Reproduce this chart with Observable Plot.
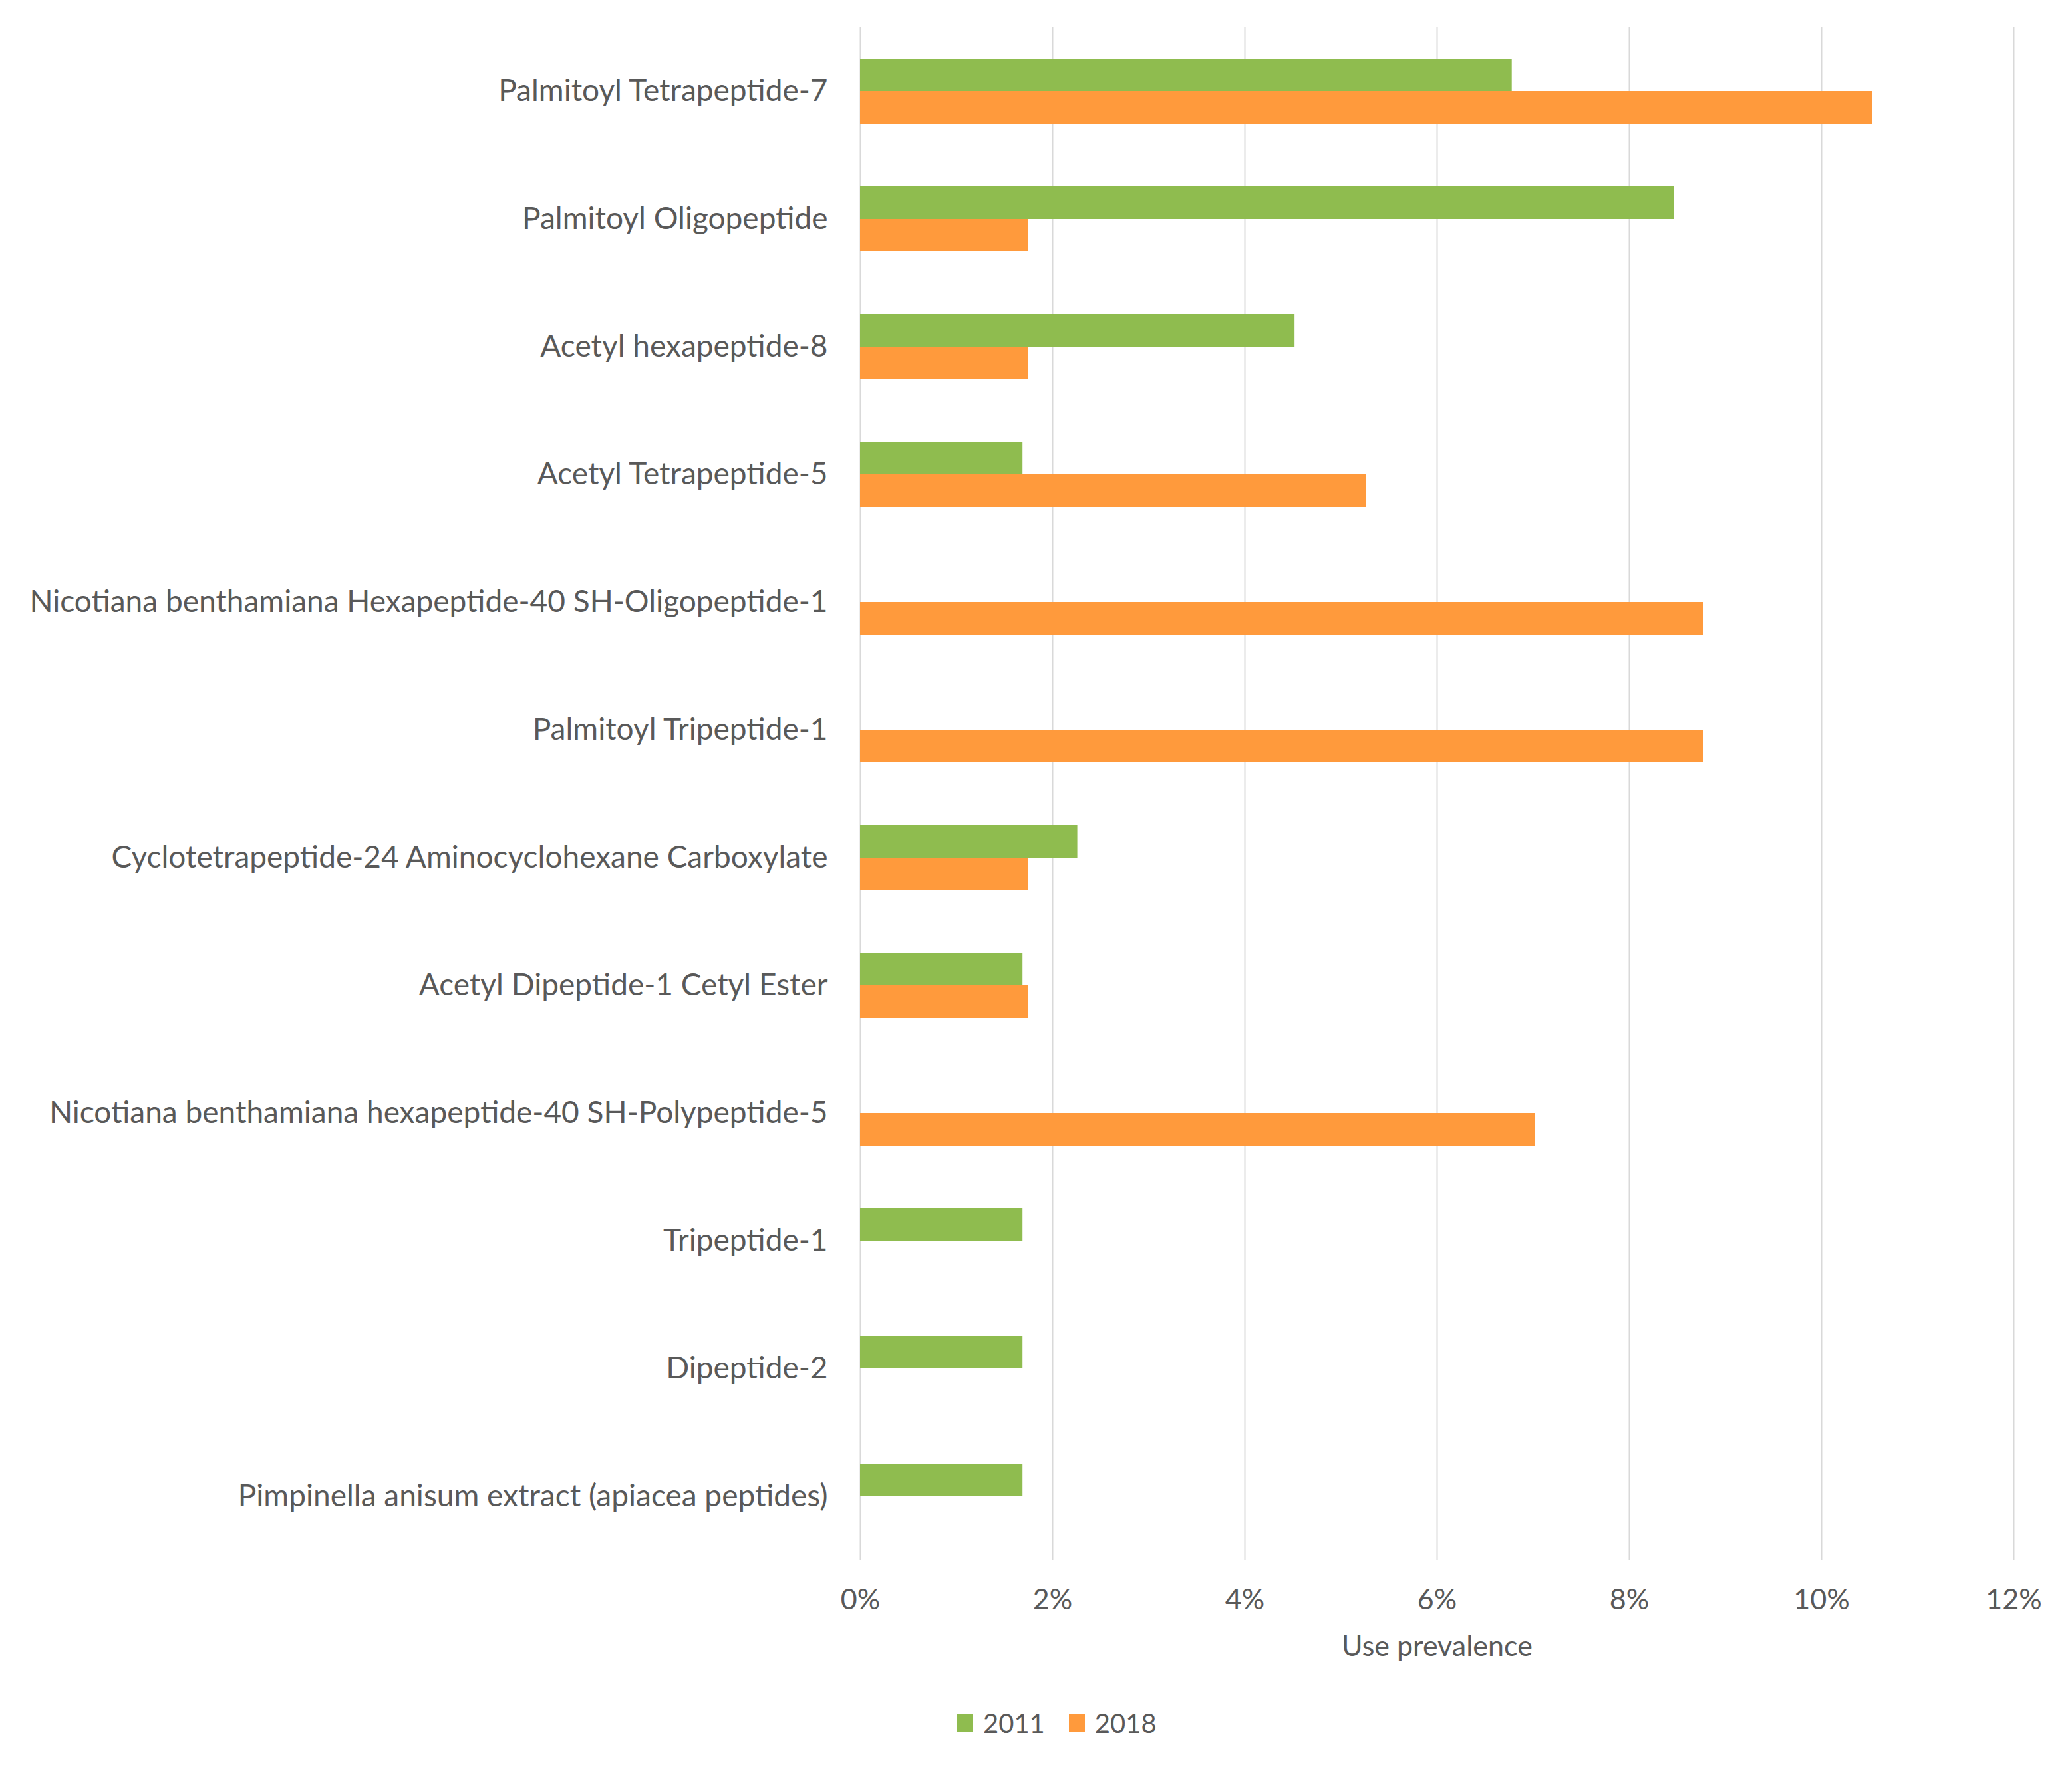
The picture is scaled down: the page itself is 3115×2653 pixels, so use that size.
<!DOCTYPE html>
<html>
<head>
<meta charset="utf-8">
<script src="https://cdn.jsdelivr.net/npm/d3@7"></script>
<script src="https://cdn.jsdelivr.net/npm/@observablehq/plot@0.6"></script>
<style>
  html, body { margin: 0; padding: 0; background: #ffffff; }
  #chart { width: 3115px; }
  #legend { padding-left: 1439px; margin-top: 6px; }
  .lg-swatch { margin-right: 36px !important; }
  .lg-swatch > svg { margin-right: 15px !important; }
</style>
</head>
<body>
<div id="chart"></div>
<div id="legend"></div>
<script>
const categories = [
  "Palmitoyl Tetrapeptide-7",
  "Palmitoyl Oligopeptide",
  "Acetyl hexapeptide-8",
  "Acetyl Tetrapeptide-5",
  "Nicotiana benthamiana Hexapeptide-40 SH-Oligopeptide-1",
  "Palmitoyl Tripeptide-1",
  "Cyclotetrapeptide-24 Aminocyclohexane Carboxylate",
  "Acetyl Dipeptide-1 Cetyl Ester",
  "Nicotiana benthamiana hexapeptide-40 SH-Polypeptide-5",
  "Tripeptide-1",
  "Dipeptide-2",
  "Pimpinella anisum extract (apiacea peptides)"
];
const seriesNames = ["2011", "2018"];
const values2011 = [6.78, 8.47, 4.52, 1.69, null, null, 2.26, 1.69, null, 1.69, 1.69, 1.69];
const values2018 = [10.53, 1.75, 1.75, 5.26, 8.77, 8.77, 1.75, 1.75, 7.02, null, null, null];
const xTicks = [0, 2, 4, 6, 8, 10, 12];
const seriesColors = ["#8FBC4F", "#FF9A3C"];

const data = categories.flatMap((c, i) => [
  {category: c, series: seriesNames[0], value: values2011[i]},
  {category: c, series: seriesNames[1], value: values2018[i]}
]).filter(d => d.value != null);

const font = "Lato, 'Open Sans', sans-serif";

const chart = Plot.plot({
  width: 3115,
  height: 2560,
  marginLeft: 1293,
  marginRight: 88,
  marginTop: 36,
  marginBottom: 210,
  style: {fontFamily: font, color: "#595959", background: "#ffffff"},
  fy: {domain: categories, padding: 0, axis: null},
  y: {domain: seriesNames, paddingInner: 0, paddingOuter: 0.93, axis: null},
  x: {domain: [0, 12], axis: null},
  color: {domain: seriesNames, range: seriesColors},
  marks: [
    Plot.gridX(xTicks, {stroke: "#d9d9d9", strokeOpacity: 1, strokeWidth: 2}),
    Plot.barX(data, {x: "value", y: "series", fy: "category", fill: "series"}),
    Plot.axisFy({anchor: "left", tickSize: 0, tickPadding: 49, fontSize: 46, label: null}),
    Plot.axisX(xTicks, {
      anchor: "bottom", tickSize: 0, tickPadding: 43, fontSize: 43,
      tickFormat: d => d + "%",
      label: "Use prevalence", labelAnchor: "center", labelArrow: "none", labelOffset: 143
    })
  ]
});
document.getElementById("chart").appendChild(chart);

const legend = Plot.legend({
  color: {domain: seriesNames, range: seriesColors},
  legend: "swatches",
  className: "lg",
  swatchWidth: 24,
  swatchHeight: 27,
  style: {fontFamily: font, fontSize: "40px", color: "#595959"}
});
document.getElementById("legend").appendChild(legend);
</script>
</body>
</html>
